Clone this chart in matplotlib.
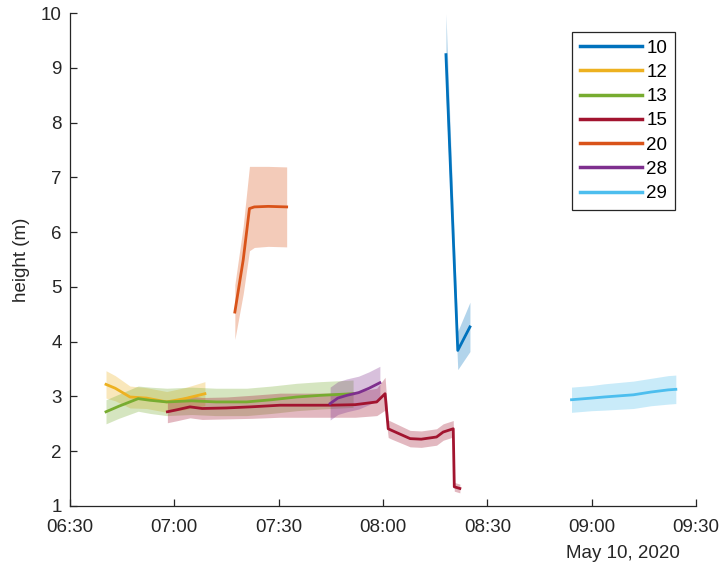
import numpy as np
import pandas as pd
import matplotlib
matplotlib.use('Agg')
import matplotlib.pyplot as plt
import matplotlib.dates as mdates

day = '2020-05-10 '

# gauge series: clock times, height (m) and +/- uncertainty (m)
t10 = ['08:18:06', '08:21:30', '08:25:00']
h10 = [9.24, 3.84, 4.27]
e10 = [0.75, 0.35, 0.45]

t12 = ['06:40:21', '06:43:00', '06:47:15', '06:52:00', '06:57:48', '07:03:00', '07:08:48']
h12 = [3.22, 3.15, 2.99, 2.97, 2.90, 2.96, 3.05]
e12 = [0.25, 0.23, 0.20, 0.19, 0.19, 0.20, 0.22]

t13 = ['06:40:21', '06:44:00', '06:49:36', '06:53:00', '06:57:48', '07:05:00',
       '07:12:00', '07:20:48', '07:28:00', '07:35:12', '07:42:00', '07:51:24']
h13 = [2.72, 2.82, 2.96, 2.93, 2.90, 2.92, 2.90, 2.90, 2.94, 2.99, 3.02, 3.05]
e13 = [0.22, 0.22, 0.23, 0.24, 0.25, 0.25, 0.25, 0.25, 0.25, 0.25, 0.25, 0.25]

t15 = ['06:58:00', '07:01:00', '07:04:30', '07:08:00', '07:15:00', '07:22:00', '07:30:24',
       '07:38:00', '07:44:48', '07:52:00', '07:58:12', '08:00:36', '08:01:30', '08:02:30',
       '08:07:48', '08:11:00', '08:15:24', '08:17:18', '08:20:12', '08:20:30', '08:22:06']
h15 = [2.72, 2.76, 2.81, 2.78, 2.79, 2.81, 2.84, 2.84, 2.84, 2.85, 2.90, 3.05, 2.41, 2.38,
       2.23, 2.22, 2.26, 2.35, 2.41, 1.35, 1.32]
e15 = [0.20, 0.20, 0.20, 0.20, 0.20, 0.21, 0.22, 0.22, 0.22, 0.23, 0.25, 0.30, 0.16, 0.16,
       0.15, 0.15, 0.15, 0.15, 0.15, 0.08, 0.08]

t20 = ['07:17:24', '07:19:48', '07:21:36', '07:23:00', '07:27:00', '07:32:18']
h20 = [4.54, 5.49, 6.43, 6.46, 6.47, 6.46]
e20 = [0.50, 0.62, 0.77, 0.74, 0.73, 0.73]

t28 = ['07:44:48', '07:47:00', '07:49:36', '07:53:00', '07:56:00', '07:59:06']
h28 = [2.87, 2.97, 3.02, 3.07, 3.15, 3.25]
e28 = [0.30, 0.30, 0.30, 0.30, 0.30, 0.30]

t29 = ['08:54:12', '09:00:00', '09:03:36', '09:12:00', '09:17:00', '09:22:00', '09:24:12']
h29 = [2.94, 2.97, 2.99, 3.03, 3.08, 3.12, 3.13]
e29 = [0.23, 0.23, 0.24, 0.25, 0.25, 0.26, 0.26]

labels = ['10', '12', '13', '15', '20', '28', '29']
colors = ['#0072BD', '#EDB120', '#77AC30', '#A2142F', '#D95319', '#7E2F8E', '#4DBEEE']
series = [(t10, h10, e10), (t12, h12, e12), (t13, h13, e13), (t15, h15, e15),
          (t20, h20, e20), (t28, h28, e28), (t29, h29, e29)]

plt.rcParams['font.family'] = ['Liberation Sans', 'DejaVu Sans']
plt.rcParams['font.size'] = 13.5

fig = plt.figure(figsize=(7.21, 5.73), dpi=100)
ax = fig.add_axes([70/721, 1-506/573, 626/721, 493/573])

for (t, h, e), lab, c in zip(series, labels, colors):
    x = pd.to_datetime([day + s for s in t])
    h = np.array(h)
    e = np.array(e)
    ax.fill_between(x, h - e, h + e, color=c, alpha=0.3, lw=0)
    ax.plot(x, h, color=c, lw=2, label=lab)

ax.set_xlim(pd.Timestamp(day + '06:30'), pd.Timestamp(day + '09:30'))
ax.set_ylim(1, 10)
ax.set_yticks(np.arange(1, 11, 1))
ax.xaxis.set_major_locator(mdates.MinuteLocator(byminute=[0, 30]))
ax.xaxis.set_major_formatter(mdates.DateFormatter('%H:%M'))

for s in ['top', 'right']:
    ax.spines[s].set_visible(False)
for s in ['left', 'bottom']:
    ax.spines[s].set_color('#262626')
    ax.spines[s].set_linewidth(0.9)
ax.tick_params(direction='in', length=5, width=0.9, colors='#262626', labelcolor='#262626', pad=6)
ax.tick_params(axis='x', pad=9)

ax.set_ylabel('height (m)', color='#262626', labelpad=8)
ax.text((680-70)/626, -0.08, 'May 10, 2020', transform=ax.transAxes, ha='right', va='top',
        color='#262626')

leg = ax.legend(loc='upper right', bbox_to_anchor=((675-70)/626, (506-32)/493),
                borderaxespad=0, fancybox=False, handlelength=3.3, labelspacing=0.38,
                handletextpad=0.25, borderpad=0.4, framealpha=1)
leg.get_frame().set_edgecolor('#262626')
leg.get_frame().set_linewidth(0.9)
for ln in leg.get_lines():
    ln.set_linewidth(2.5)

fig.savefig('out.png', dpi=100)
